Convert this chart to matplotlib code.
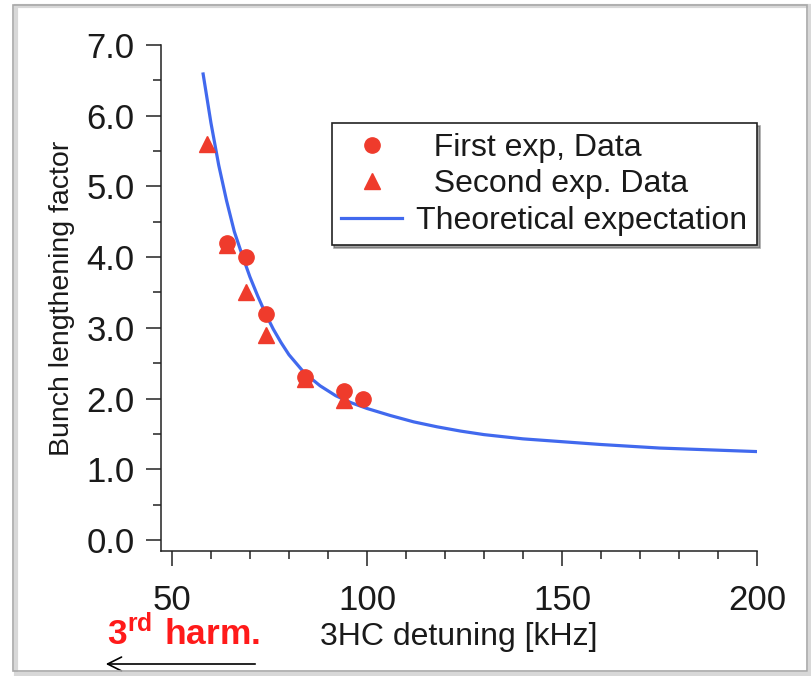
import matplotlib
matplotlib.use("Agg")
import matplotlib.pyplot as plt
from matplotlib.patches import Rectangle
from matplotlib.ticker import MultipleLocator, FormatStrFormatter

plt.rcParams['font.family'] = ['Liberation Sans', 'DejaVu Sans']
plt.rcParams['mathtext.fontset'] = 'custom'
plt.rcParams['mathtext.rm'] = 'Liberation Sans'
plt.rcParams['mathtext.bf'] = 'Liberation Sans:bold'

# Data
first_x = [64, 69, 74, 84, 94, 99]
first_y = [4.2, 4.0, 3.2, 2.3, 2.1, 2.0]
second_x = [59, 64, 69, 74, 84, 94]
second_y = [5.6, 4.17, 3.5, 2.9, 2.27, 1.98]
theory_x = [58, 60, 62, 64, 66, 68, 70, 72, 74, 76, 78, 80, 84, 88, 92, 96, 100,
            106, 112, 118, 124, 130, 140, 150, 160, 175, 190, 200]
theory_y = [6.59, 5.9, 5.3, 4.8, 4.36, 4.03, 3.72, 3.45, 3.2, 2.98, 2.79, 2.62, 2.36,
            2.18, 2.04, 1.94, 1.86, 1.76, 1.67, 1.6, 1.54, 1.49, 1.43, 1.39, 1.35,
            1.3, 1.27, 1.25]
x_ticks = [50, 100, 150, 200]
y_ticks = [0.0, 1.0, 2.0, 3.0, 4.0, 5.0, 6.0, 7.0]

red = '#ef3b2c'
blue = '#4169ee'

fig = plt.figure(figsize=(8.12, 6.76), dpi=100)
# outer frame with shadow
fig.patches.append(Rectangle((16/812, 1 - 674/676), 794/812, 668/676, transform=fig.transFigure,
                             facecolor='none', edgecolor='#d8d8d8', lw=3, zorder=0))
fig.patches.append(Rectangle((13/812, 1 - 671/676), 794/812, 666/676, transform=fig.transFigure,
                             facecolor='none', edgecolor='#a8a8a8', lw=1.2, zorder=1))

ax = fig.add_axes([161/812, 1 - 551/676, 596/812, 506/676])
ax.plot(theory_x, theory_y, color=blue, lw=2.3, label='Theoretical expectation', zorder=2)
ax.plot(first_x, first_y, 'o', color=red, ms=11, label='  First exp, Data', zorder=3)
ax.plot(second_x, second_y, '^', color=red, ms=11, label='  Second exp. Data', zorder=3)

ax.set_xlim(47.2, 200)
ax.set_ylim(-0.156, 7.0)
for s in ['top', 'right']:
    ax.spines[s].set_visible(False)
for s in ['left', 'bottom']:
    ax.spines[s].set_linewidth(1.1)
    ax.spines[s].set_color('#222222')

ax.set_xticks(x_ticks)
ax.set_yticks(y_ticks)
ax.yaxis.set_major_formatter(FormatStrFormatter('%.1f'))
ax.xaxis.set_minor_locator(MultipleLocator(10))
ax.yaxis.set_minor_locator(MultipleLocator(0.5))
ax.tick_params(axis='both', which='major', direction='out', length=11, width=1.1,
               color='#222222', labelsize=25, labelcolor='#1a1a1a')
ax.tick_params(axis='both', which='minor', direction='out', length=5.5, width=1.1, color='#222222')
ax.tick_params(axis='x', which='major', pad=13)
ax.tick_params(axis='y', which='major', pad=8)

ax.set_xlabel('3HC detuning [kHz]', fontsize=23, labelpad=3, color='#1a1a1a')
ax.set_ylabel('Bunch lengthening factor', fontsize=20.5, labelpad=8, color='#1a1a1a')

h, l = ax.get_legend_handles_labels()
order = [1, 2, 0]
leg = ax.legend([h[i] for i in order], [l[i] for i in order], loc='upper right',
                bbox_to_anchor=(1.0, 0.845), borderaxespad=0, fontsize=23,
                frameon=True, fancybox=False, shadow=True, handlelength=1.9,
                handletextpad=0.45, labelspacing=0.2, borderpad=0.3)
leg.get_frame().set_edgecolor('#222222')
leg.get_frame().set_linewidth(1.2)
for t in leg.get_texts():
    t.set_color('#1a1a1a')

fig.text(107/812, 1 - 634/676, r'$\mathbf{3^{rd}\ harm.}$', color='#ff1a1a',
         fontsize=25.5, va='center', ha='left')
ax.annotate('', xy=(103/812, 1 - 664/676), xytext=(258/812, 1 - 664/676),
            xycoords='figure fraction', textcoords='figure fraction',
            arrowprops=dict(arrowstyle='->', color='black', lw=1.2, mutation_scale=25))

fig.savefig('out.png', dpi=100)
